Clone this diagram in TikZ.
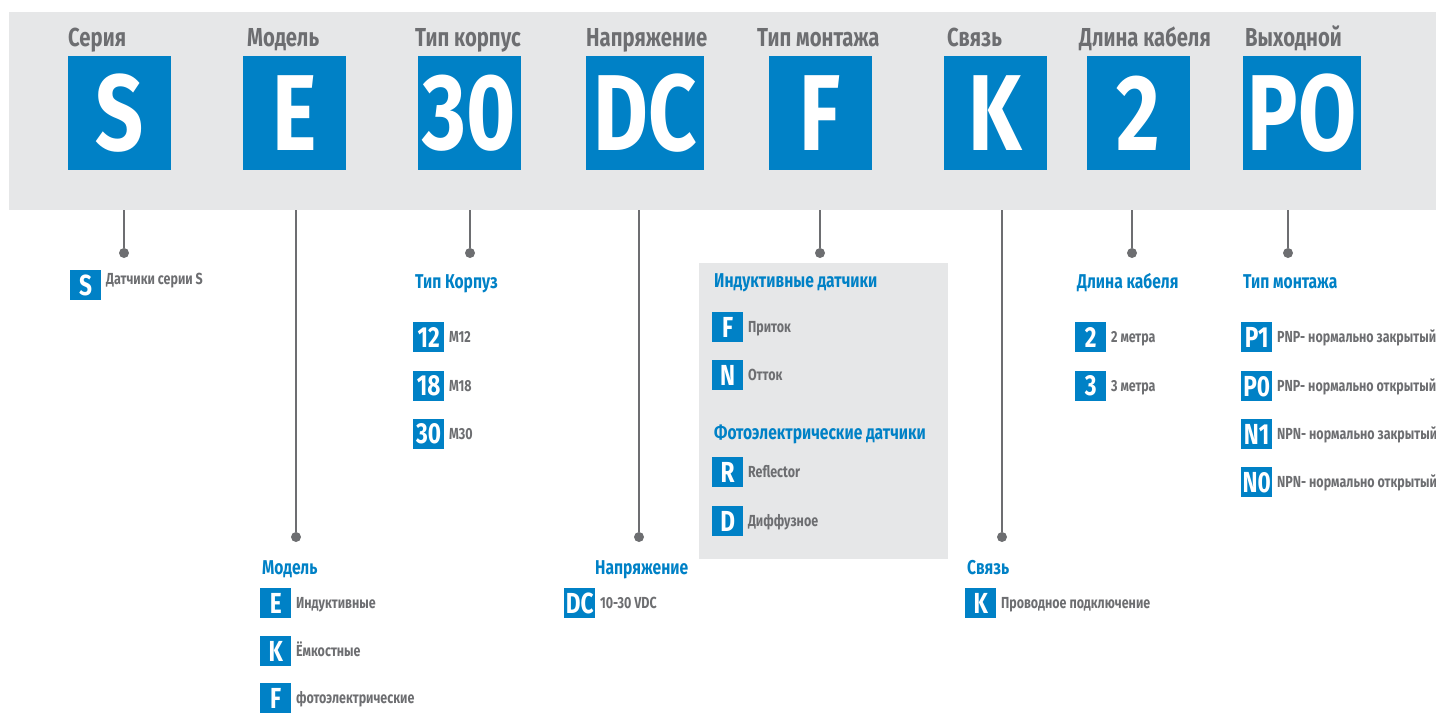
\documentclass[tikz,border=0pt]{standalone}
\usepackage{fontspec}
\usepackage{tikz}
\usetikzlibrary{positioning}

\newfontfamily\cnd{Fira Sans}[FakeStretch=0.78]
\definecolor{codeblue}{HTML}{0081C6}
\definecolor{codegray}{HTML}{6D6E71}
\definecolor{panelgray}{HTML}{E6E7E8}

\begin{document}
\begin{tikzpicture}[
    x=1pt, y=-1pt,
    bigbox/.style={fill=codeblue, text=white, inner sep=0pt, minimum height=114pt, minimum width=103pt,
        font=\cnd\bfseries\fontsize{108}{110}\selectfont},
    hdr/.style={anchor=base west, inner sep=0pt, text=codegray, font=\cnd\bfseries\fontsize{26}{28}\selectfont},
    ttl/.style={anchor=base west, inner sep=0pt, text=codeblue, font=\cnd\bfseries\fontsize{20}{22}\selectfont},
    tag/.style={anchor=north west, fill=codeblue, text=white, inner sep=0pt, minimum width=31pt, minimum height=30pt,
        font=\cnd\bfseries\fontsize{29}{30}\selectfont},
    desc/.style={inner sep=0pt, text=codegray, text height=11pt, text depth=0pt, node distance=4.5pt,
        font=\cnd\bfseries\fontsize{16}{18}\selectfont},
    pin/.style={circle, fill=codegray, inner sep=0pt, minimum size=10pt},
    lead/.style={draw=codegray, line width=1.8pt}
]
\useasboundingbox (0,0) rectangle (1436,713);

% code bar
\node[fill=panelgray, anchor=north west, inner sep=0pt, minimum width=1427pt, minimum height=198pt] (bar) at (9,12) {};

\node[hdr] (hSer) at (68,46) {Серия};
\node[hdr] (hMod) at (247,46) {Модель};
\node[hdr] (hKor) at (415,46) {Тип корпус};
\node[hdr] (hNap) at (586,46) {Напряжение};
\node[hdr] (hMon) at (757,46) {Тип монтажа};
\node[hdr] (hSvz) at (947,46) {Связь};
\node[hdr] (hDl) at (1079,46) {Длина кабеля};
\node[hdr] (hVyh) at (1245,46) {Выходной};

\node[bigbox] (bS) at (119.5,113) {S};
\node[bigbox] (bE) at (294.5,113) {E};
\node[bigbox] (b30) at (469.5,113) {30};
\node[bigbox, minimum width=118pt] (bDC) at (645,113) {DC};
\node[bigbox] (bF) at (820.5,113) {F};
\node[bigbox] (bK) at (995.5,113) {K};
\node[bigbox] (b2) at (1138.5,113) {2};
\node[bigbox, minimum width=118pt] (bPO) at (1302,113) {PO};

% pins
\node[pin] (pS) at (124,253) {};
\node[pin] (pE) at (296,537) {};
\node[pin] (p30) at (470,253) {};
\node[pin] (pDC) at (639,537) {};
\node[pin] (pF) at (820,253) {};
\node[pin] (pK) at (1002,537) {};
\node[pin] (p2) at (1132,253) {};
\node[pin] (pPO) at (1288,253) {};
\foreach \p in {pS,pE,p30,pDC,pF,pK,p2,pPO}
    \draw[lead] (\p |- bar.south) -- (\p);

% series
\node[tag] (tS) at (70,270) {S};
\node[desc, anchor=base west, text height=, text depth=] (dS) at (106,284) {Датчики серии S};

% housing
\node[ttl] (ttKor) at (415,288) {Тип Корпуз};
\node[tag] (t12) at (413,322) {12};
\node[tag] (t18) at (413,371) {18};
\node[tag] (t30) at (413,419) {30};
\node[desc, right=of t12] {M12};
\node[desc, right=of t18] {M18};
\node[desc, right=of t30] {M30};

% mounting panel
\fill[panelgray] (699,263) rectangle (948,559);
\node[ttl] (ttInd) at (714,287) {Индуктивные датчики};
\node[tag] (tF) at (712,312) {F};
\node[tag] (tN) at (712,360) {N};
\node[desc, right=of tF] {Приток};
\node[desc, right=of tN] {Отток};
\node[ttl] (ttFot) at (714,439) {Фотоэлектрические датчики};
\node[tag] (tR) at (712,457) {R};
\node[tag] (tD) at (712,506) {D};
\node[desc, right=of tR] {Reflector};
\node[desc, right=of tD] {Диффузное};

% cable length
\node[ttl] (ttDl) at (1077,288) {Длина кабеля};
\node[tag] (t2) at (1075,322) {2};
\node[tag] (t3) at (1075,371) {3};
\node[desc, right=of t2] {2 метра};
\node[desc, right=of t3] {3 метра};

% output
\node[ttl] (ttMon) at (1243,288) {Тип монтажа};
\node[tag] (tP1) at (1241,322) {P1};
\node[tag] (tP0) at (1241,371) {P0};
\node[tag] (tN1) at (1241,419) {N1};
\node[tag] (tN0) at (1241,467) {N0};
\node[desc, right=of tP1] {PNP- нормально закрытый};
\node[desc, right=of tP0] {PNP- нормально открытый};
\node[desc, right=of tN1] {NPN- нормально закрытый};
\node[desc, right=of tN0] {NPN- нормально открытый};

% model
\node[ttl] (ttMod) at (262,574) {Модель};
\node[tag] (tE) at (260,588) {E};
\node[tag] (tK) at (260,636) {K};
\node[tag] (tFo) at (260,683) {F};
\node[desc, right=of tE] {Индуктивные};
\node[desc, right=of tK] {Ёмкостные};
\node[desc, right=of tFo] {фотоэлектрические};

% voltage
\node[ttl] (ttNap) at (595,574) {Напряжение};
\node[tag] (tDC) at (564,588) {DC};
\node[desc, right=of tDC] {10-30 VDC};

% connection
\node[ttl] (ttSvz) at (967,574) {Связь};
\node[tag] (tKc) at (965,588) {K};
\node[desc, right=of tKc] {Проводное подключение};

\end{tikzpicture}
\end{document}
